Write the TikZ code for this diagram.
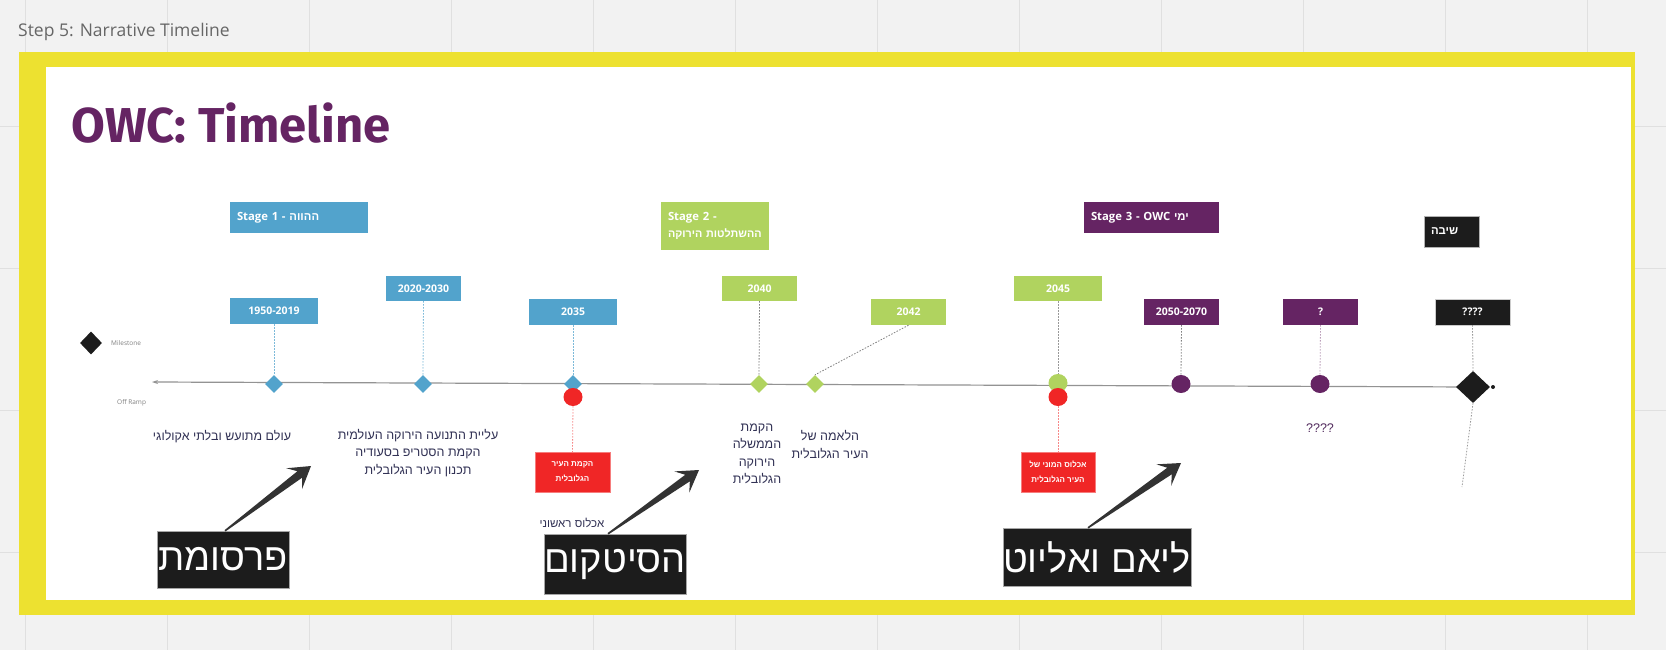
\documentclass[tikz,border=0pt]{standalone}
\usepackage{fontspec}
\setmainfont{Open Sans}
\newfontfamily\heb[Script=Hebrew]{Liberation Sans}
\newfontfamily\titlefont{Fira Sans}
\usetikzlibrary{shapes.geometric,calc,arrows.meta}
\TeXXeTstate=1
\newcommand{\myR}[1]{\beginR #1\endR}
\definecolor{owcblue}{RGB}{82,163,204}
\definecolor{owcgreen}{RGB}{176,211,95}
\definecolor{owcpurple}{RGB}{101,36,99}
\definecolor{owcred}{RGB}{240,38,38}
\definecolor{owcblack}{RGB}{28,28,28}
\definecolor{owcyellow}{RGB}{237,225,48}
\definecolor{canvas}{RGB}{242,242,242}
\definecolor{gridc}{RGB}{224,224,224}
\definecolor{desc}{RGB}{50,50,85}
\definecolor{steptext}{RGB}{102,102,102}
\definecolor{arrowc}{RGB}{51,51,51}
\newcommand{\fatarrow}[3]{%
  \coordinate (#1n) at ($(#3)!14pt!(#2)$);
  \coordinate (#1w) at ($(#3)!21pt!(#2)$);
  \fill[arrowc] ($(#2)!0.8pt!90:(#3)$) -- ($(#1n)!4pt!90:(#3)$) -- ($(#1w)!13pt!90:(#3)$) -- (#3)
    -- ($(#1w)!13pt!-90:(#3)$) -- ($(#1n)!4pt!-90:(#3)$) -- ($(#2)!0.8pt!-90:(#3)$) -- cycle;}
\tikzset{
  datebox/.style={rectangle, inner sep=0pt, text=white, font=\bfseries\fontsize{10.5}{12}\selectfont},
  stagebox/.style={rectangle, inner ysep=0pt, inner xsep=7pt, text=white, align=left, font=\bfseries\fontsize{11.3}{17}\selectfont},
  dmark/.style={diamond, inner sep=0pt, minimum width=18pt, minimum height=18pt},
  cmark/.style={ellipse, inner sep=0pt, minimum width=19pt, minimum height=18pt},
  descr/.style={text=desc, align=center, inner sep=0pt, font=\heb\fontsize{12.5}{17.5}\selectfont},
  redbox/.style={rectangle, fill=owcred, draw=owcred!60!white, text=white, align=center, inner sep=0pt,
     font=\heb\bfseries\fontsize{8}{15}\selectfont, minimum width=75pt, minimum height=40pt},
  bigbox/.style={rectangle, fill=owcblack, draw=gray!70, text=white, inner sep=0pt, font=\heb\fontsize{38}{40}\selectfont},
  dotline/.style={line width=0.8pt, dash pattern=on 1.5pt off 1.5pt},
  legend/.style={text=gray, inner sep=0pt, font=\fontsize{6.5}{7}\selectfont}
}
\begin{document}
\begin{tikzpicture}[x=1pt,y=-1pt]
\useasboundingbox (0,0) rectangle (1666,650);
% canvas
\fill[canvas] (0,0) rectangle (1666,650);
\foreach \x in {25,167,...,1600} \draw[gridc, line width=0.8pt] (\x,0) -- (\x,650);
\foreach \y in {126,268,410,552} \draw[gridc, line width=0.8pt] (0,\y) -- (1666,\y);
% frame
\fill[owcyellow] (19,52) rectangle (1635,615);
\fill[white] (46,67) rectangle (1631,600);
% headings
\node[anchor=base west, inner sep=0pt, text=steptext, font=\fontsize{17.5}{20}\selectfont] (step) at (18,37) {Step 5: Narrative Timeline};
\node[anchor=base west, inner sep=0pt, text=owcpurple, font=\titlefont\bfseries\fontsize{49}{54}\selectfont] (title) at (71,143) {OWC: Timeline};
% axis
\coordinate (axl) at (152,382);
\coordinate (axr) at (1473,387);
\draw[gray!85, line width=1.2pt, -{Stealth[length=6pt,width=4pt]}] (axr) -- (axl);
% legend
\node[dmark, fill=owcblack, minimum width=22pt, minimum height=23pt] (leg) at (91,343) {};
\node[legend, anchor=west] (legm) at (111,343) {Milestone};
\node[legend, anchor=west] (lego) at (117,403) {Off Ramp};
% stage boxes
\node[stagebox, fill=owcblue, text width=124pt, minimum height=31pt] (s1) at (299,217.5) {Stage 1 - {\heb\myR{ההווה}}};
\node[stagebox, fill=owcgreen, text width=94pt, minimum height=48pt] (s2) at (715,226) {Stage 2 -\\\hbox{\heb\fontsize{10.8}{17}\selectfont\myR{ההשתלטות הירוקה}}};
\node[stagebox, fill=owcpurple, text width=121pt, minimum height=31pt] (s3) at (1151.5,217.5) {Stage 3 - OWC {\heb\myR{ימי}}};
\node[stagebox, fill=owcblack, draw=gray!60, text width=41pt, minimum height=31pt] (s4) at (1451.5,231.5) {{\heb\myR{שיבה}}};
% date boxes
\node[datebox, fill=owcblue, minimum width=88pt, minimum height=26pt] (d1) at (274,311) {1950-2019};
\node[datebox, fill=owcblue, minimum width=75pt, minimum height=25pt] (d2) at (423.5,288.5) {2020-2030};
\node[datebox, fill=owcblue, minimum width=88pt, minimum height=26pt] (d3) at (573,312) {2035};
\node[datebox, fill=owcgreen, minimum width=75pt, minimum height=25pt] (d4) at (759.5,288.5) {2040};
\node[datebox, fill=owcgreen, minimum width=75pt, minimum height=26pt] (d5) at (908.5,312) {2042};
\node[datebox, fill=owcgreen, minimum width=88pt, minimum height=25pt] (d6) at (1058,288.5) {2045};
\node[datebox, fill=owcpurple, minimum width=75pt, minimum height=26pt] (d7) at (1181.5,312) {2050-2070};
\node[datebox, fill=owcpurple, minimum width=75pt, minimum height=26pt] (d8) at (1320.5,312) {?};
\node[datebox, fill=owcblack, draw=gray!40, minimum width=75pt, minimum height=26pt] (d9) at (1472.5,312) {????};
% markers
\node[dmark, fill=owcblue] (m1) at (274,384) {};
\node[dmark, fill=owcblue] (m2) at (423,384) {};
\node[dmark, fill=owcblue] (m3) at (573,384) {};
\node[cmark, fill=owcred] (r1) at (573,397) {};
\node[dmark, fill=owcgreen] (m4) at (759,384) {};
\node[dmark, fill=owcgreen] (m5) at (815,384) {};
\node[cmark, fill=owcgreen] (m6) at (1058,383) {};
\node[cmark, fill=owcred] (r2) at (1058,397) {};
\node[cmark, fill=owcpurple] (m7) at (1181,384) {};
\node[cmark, fill=owcpurple] (m8) at (1320,384) {};
\node[dmark, fill=owcblack, minimum width=34pt, minimum height=32pt] (m9) at (1473,387) {};
\node[circle, fill=owcblack, inner sep=0pt, minimum size=4pt] (m9dot) at (1493,387) {};
% red boxes
\node[redbox] (rb1) at (572.5,472) {\myR{הקמת העיר}\\\myR{הגלובלית}};
\node[redbox, minimum width=74pt] (rb2) at (1058,472) {\myR{אכלוס המוני של}\\\myR{העיר הגלובלית}};
% dotted connectors
\draw[dotline, owcblue!75] (d1.south) -- (m1.north);
\draw[dotline, owcblue!75] (d2.south) -- (m2.north);
\draw[dotline, owcblue!75] (d3.south) -- (m3.north);
\draw[dotline, owcred!55] (r1.south) -- (rb1.north);
\draw[dotline, gray] (d4.south) -- (m4.north);
\draw[dotline, gray] (d5.south) -- (m5.north);
\draw[dotline, gray!80] (d6.south) -- (m6.north);
\draw[dotline, owcred!55] (r2.south) -- (rb2.north);
\draw[dotline, gray] (d7.south) -- (m7.north);
\draw[dotline, owcpurple!45] (d8.south) -- (m8.north);
\draw[dotline, gray!80] (d9.south) -- (m9.north);
\coordinate (tail) at (1462,487);
\draw[dotline, gray!80] (m9.south) -- (tail);
% descriptions
\node[descr] (t1) at (222,437) {\myR{עולם מתועש ובלתי אקולוגי}};
\node[descr] (t2) at (418,453) {\myR{עליית התנועה הירוקה העולמית}\\\myR{הקמת הסטריפ בסעודיה}\\\myR{תכנון העיר הגלובלית}};
\node[descr] (t3) at (757,454) {\myR{הקמת}\\\myR{הממשלה}\\\myR{הירוקה}\\\myR{הגלובלית}};
\node[descr] (t4) at (830,444.5) {\myR{הלאמה של}\\\myR{העיר הגלובלית}};
\node[descr, font=\heb\fontsize{11.5}{14}\selectfont] (t5) at (572,523) {\myR{אכלוס ראשוני}};
\node[descr, text=owcpurple!60!desc] (t6) at (1320,428) {????};
% big labels
\node[bigbox, minimum width=132pt, minimum height=57pt] (b1) at (223,559.5) {\myR{פרסומת}};
\node[bigbox, minimum width=142pt, minimum height=60pt] (b2) at (615,564) {\myR{הסיטקום}};
\node[bigbox, minimum width=188pt, minimum height=58pt] (b3) at (1097,557) {\myR{ליאם ואליוט}};
% fat arrows
\coordinate (a1s) at ($(b1.north)+(2,0)$);
\coordinate (a1t) at (311,466);
\coordinate (a2s) at ($(b2.north)+(-7,0)$);
\coordinate (a2t) at (699,470);
\coordinate (a3s) at ($(b3.north)+(-9,0)$);
\coordinate (a3t) at (1181,463);
\fatarrow{aa}{a1s}{a1t}
\fatarrow{ab}{a2s}{a2t}
\fatarrow{ac}{a3s}{a3t}
\end{tikzpicture}
\end{document}
